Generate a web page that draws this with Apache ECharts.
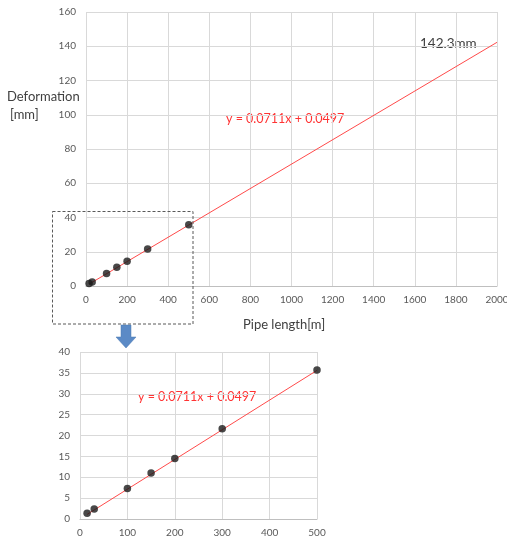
<!DOCTYPE html>
<html><head><meta charset="utf-8">
<script src="https://cdn.jsdelivr.net/npm/echarts@6/dist/echarts.min.js"></script>
<style>html,body{margin:0;padding:0;background:#fff}#c{width:507px;height:537px}</style>
</head><body><div id="c"></div>
<script>
// Data
var pipeLength = [15, 30, 100, 150, 200, 300, 500];
var deformation = [1.4, 2.4, 7.3, 11.0, 14.5, 21.6, 35.7];
var trendTop = [[15, 1.1], [2000, 142.3]];
var trendBottom = [[15, 1.1], [500, 35.6]];
var trendLabel = 'y = 0.0711x + 0.0497';
var endLabel = '142.3mm';
var topXTicks = {min: 0, max: 2000, interval: 200};
var topYTicks = {min: 0, max: 160, interval: 20};
var botXTicks = {min: 0, max: 500, interval: 100};
var botYTicks = {min: 0, max: 40, interval: 5};

var pts = pipeLength.map(function (x, i) { return [x, deformation[i]]; });
var FONT = 'Lato, "Open Sans", sans-serif';
var gridColor = '#d9d9d9';
var labelColor = '#595959';

function plain(v) { return String(v); }
function xAxis(idx, t) {
  return {gridIndex: idx, type: 'value', min: t.min, max: t.max, interval: t.interval,
    axisLine: {show: true, lineStyle: {color: '#bfbfbf'}}, axisTick: {show: false},
    splitLine: {show: true, lineStyle: {color: gridColor}},
    axisLabel: {color: labelColor, fontSize: 10, fontFamily: FONT, margin: 9, formatter: plain}};
}
function yAxis(idx, t) {
  return {gridIndex: idx, type: 'value', min: t.min, max: t.max, interval: t.interval,
    axisLine: {show: false}, axisTick: {show: false},
    splitLine: {show: true, lineStyle: {color: gridColor}},
    axisLabel: {color: labelColor, fontSize: 10, fontFamily: FONT, margin: 10, formatter: plain}};
}

var chart = echarts.init(document.getElementById('c'));
chart.setOption({
  animation: false,
  grid: [
    {left: 86, top: 12, right: 10, bottom: 251, containLabel: false, outerBoundsMode: 'none'},
    {left: 80, top: 352, width: 237, bottom: 18, containLabel: false, outerBoundsMode: 'none'}
  ],
  xAxis: [xAxis(0, topXTicks), xAxis(1, botXTicks)],
  yAxis: [yAxis(0, topYTicks), yAxis(1, botYTicks)],
  series: [
    {type: 'line', xAxisIndex: 0, yAxisIndex: 0, data: trendTop, symbol: 'none',
      lineStyle: {color: '#ff4a4a', width: 1}, z: 2},
    {type: 'scatter', xAxisIndex: 0, yAxisIndex: 0, data: pts, symbolSize: 7.5,
      itemStyle: {color: '#1a1a1a'}, z: 3},
    {type: 'line', xAxisIndex: 1, yAxisIndex: 1, data: trendBottom, symbol: 'none',
      lineStyle: {color: '#ff4a4a', width: 1}, z: 2},
    {type: 'scatter', xAxisIndex: 1, yAxisIndex: 1, data: pts, symbolSize: 7.5,
      itemStyle: {color: '#1a1a1a'}, z: 3}
  ],
  graphic: [
    {type: 'text', left: 7, top: 90, style: {text: 'Deformation', fill: '#404040', font: '13px ' + FONT}},
    {type: 'text', left: 10, top: 108, style: {text: '[mm]', fill: '#404040', font: '13px ' + FONT}},
    {type: 'text', left: 243, top: 318, style: {text: 'Pipe length[m]', fill: '#404040', font: '13px ' + FONT}},
    {type: 'text', left: 226, top: 112, style: {text: trendLabel, fill: '#ff3333', font: '12.5px ' + FONT}},
    {type: 'text', left: 420, top: 37, style: {text: endLabel, fill: '#404040', font: '13.5px ' + FONT}},
    {type: 'text', left: 138, top: 390, style: {text: trendLabel, fill: '#ff3333', font: '12.5px ' + FONT}},
    {type: 'rect', shape: {x: 52.5, y: 211.5, width: 140.5, height: 112.5},
      style: {fill: 'none', stroke: '#595959', lineWidth: 1, lineDash: [3, 2]}, z: 10},
    {type: 'polygon', shape: {points: [[121, 325], [131, 325], [131, 337], [136, 337], [126, 348], [116, 337], [121, 337]]},
      style: {fill: '#5b8ac6', stroke: '#4a78b3', lineWidth: 0.5}, z: 10}
  ]
});
</script></body></html>
